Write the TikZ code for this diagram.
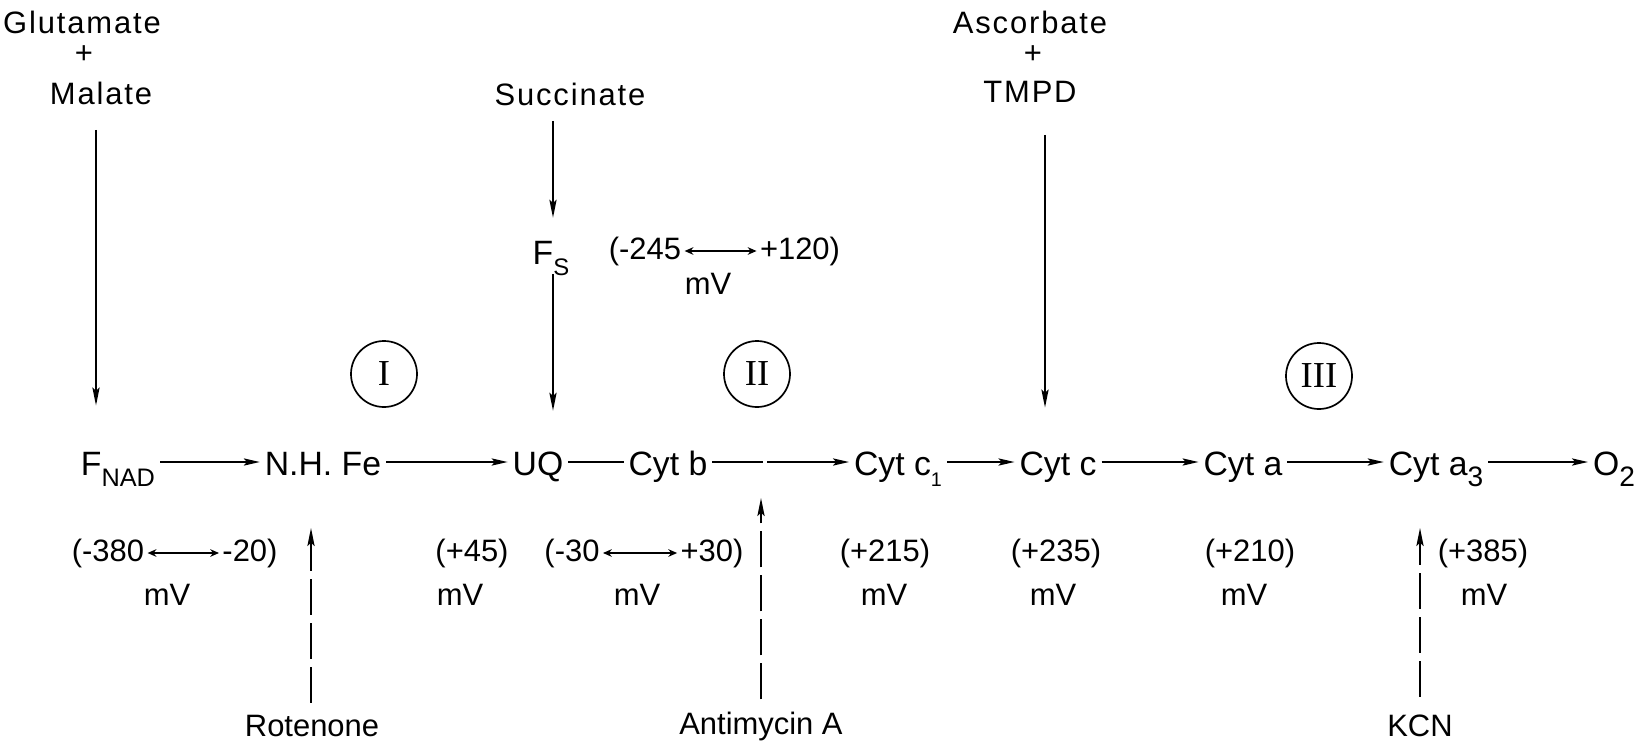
\documentclass[tikz,border=0pt]{standalone}
\usepackage{fontspec}
\setmainfont{Liberation Sans}
\newfontfamily\spaced{Liberation Sans}[LetterSpace=6]
\newfontfamily\numeral{Liberation Serif}
\usetikzlibrary{calc, positioning}
\usetikzlibrary{arrows.meta}

\newcommand{\low}[2][18]{\raisebox{-0.28cm}{\fontsize{#1}{#1}\selectfont #2}}

\begin{document}
\begin{tikzpicture}[x=0.025cm,y=-0.025cm,
  every node/.style={inner sep=0pt, font=\fontsize{22}{26}\selectfont},
  carrier/.style={font=\fontsize{24}{28}\selectfont, text height=0.65cm, text depth=0pt},
  substrate/.style={font=\spaced\fontsize{22}{26}\selectfont},
  flow/.style={line width=1.2pt, -{Stealth[length=4mm,width=1.8mm,inset=0.8mm]},
    shorten <=0.12cm, shorten >=0.12cm},
  link/.style={line width=1.2pt, shorten <=0.12cm, shorten >=0.12cm},
  feed/.style={line width=1.2pt, -{Stealth[length=4.5mm,width=1.8mm,inset=0.8mm]}},
  block/.style={feed, dash pattern=on 0.9cm off 0.2cm},
  span/.style={line width=1.2pt, {Stealth[length=2.2mm,width=1.9mm]}-{Stealth[length=2.2mm,width=1.9mm]},
    shorten <=0.08cm, shorten >=0.08cm},
  site/.style={draw, circle, line width=1.2pt, minimum size=1.65cm,
    font=\numeral\fontsize{26}{26}\selectfont}]
\useasboundingbox (0,0) rectangle (1640,750);

% chain
\node[carrier] (fnad)  at (118,462)  {F\low{NAD}};
\node[carrier] (nhfe)  at (323,462)  {N.H. Fe};
\node[carrier] (uq)    at (538,462)  {UQ};
\node[carrier] (cytb)  at (668,462)  {Cyt b};
\node[carrier] (cytc1) at (898,462)  {Cyt c\low[14]{1}};
\node[carrier] (cytc)  at (1058,462) {Cyt c};
\node[carrier] (cyta)  at (1243,462) {Cyt a};
\node[carrier] (cyta3) at (1436,462) {Cyt a\low[20]{3}};
\node[carrier] (otwo)  at (1614,462) {O\low[20]{2}};
\coordinate (ab) at (765,462);

\foreach \a/\b in {fnad/nhfe, nhfe/uq, cytc1/cytc, cytc/cyta, cyta/cyta3, cyta3/otwo}
  \draw[flow] (\a) -- (\b);
\draw[link] (uq) -- (cytb);
\draw[link, shorten >=0.04cm] (cytb) -- (ab);
\draw[flow, shorten <=0.06cm] (ab) -- (cytc1);

% sites
\node[site] (one)   at (384,374)  {I};
\node[site] (two)   at (757,374)  {II};
\node[site] (three) at (1319,376) {III};

% substrates
\node[substrate] (glu)  at (82,22)   {Glutamate};
\node (gluplus)         at (84,55)   {+};
\node[substrate] (mal)  at (101,93)  {Malate};
\node[substrate] (succ) at (570,94)  {Succinate};
\node[carrier] (fs)     at (551,251) {F\low[17]{S}};
\node[substrate] (asc)  at (1030,22) {Ascorbate};
\node (ascplus)         at (1033,55) {+};
\node[substrate] (tmpd) at (1030,92) {TMPD};
\coordinate (gx) at (96,0);
\coordinate (sx) at (553,0);
\coordinate (ax) at (1045,0);

\draw[feed, shorten <=0.63cm, shorten >=1.08cm] (mal.south -| gx) -- (fnad.north -| gx);
\draw[feed, shorten <=0.38cm, shorten >=0.5cm] (succ.south -| sx) -- (fs.north -| sx);
\draw[feed, shorten <=0.25cm, shorten >=0.95cm] (fs.south -| sx) -- (uq.north -| sx);
\draw[feed, shorten <=0.8cm, shorten >=1.03cm] (tmpd.south -| ax) -- (cytc.north -| ax);

\node (fslo) at (645,251) {(-245};
\node (fshi) at (800,251) {+120)};
\draw[span] (fslo) -- (fshi);
\node (fsmv) at (708,284) {mV};

% potentials
\node (nlo) at (108,553) {(-380};
\node (nhi) at (250,553) {-20)};
\draw[span] (nlo) -- (nhi);
\node (blo) at (572,553) {(-30};
\node (bhi) at (712,553) {+30)};
\draw[span] (blo) -- (bhi);
\foreach \nm/\x/\val in {uqv/472/{(+45)}, c1v/885/{(+215)}, cv/1056/{(+235)},
    av/1250/{(+210)}, a3v/1483/{(+385)}}
  \node (\nm) at (\x,553) {\val};
\foreach \x in {167,460,637,884,1053,1244,1484}
  \node (mv\x) at (\x,595) {mV};

% inhibitors
\node (rot)  at (312,726)  {Rotenone};
\node (anti) at (761,726)  {Antimycin A};
\node (kcn)  at (1420,726) {KCN};
\coordinate (rothit)  at (311,528);
\coordinate (antihit) at (761,498);
\coordinate (kcnhit)  at (1420,528);
\draw[block, shorten <=0.3cm] (rot.north -| rothit) -- (rothit);
\draw[block, shorten <=0.3cm] (anti.north -| antihit) -- (antihit);
\draw[block, shorten <=0.45cm] (kcn.north -| kcnhit) -- (kcnhit);
\end{tikzpicture}
\end{document}
